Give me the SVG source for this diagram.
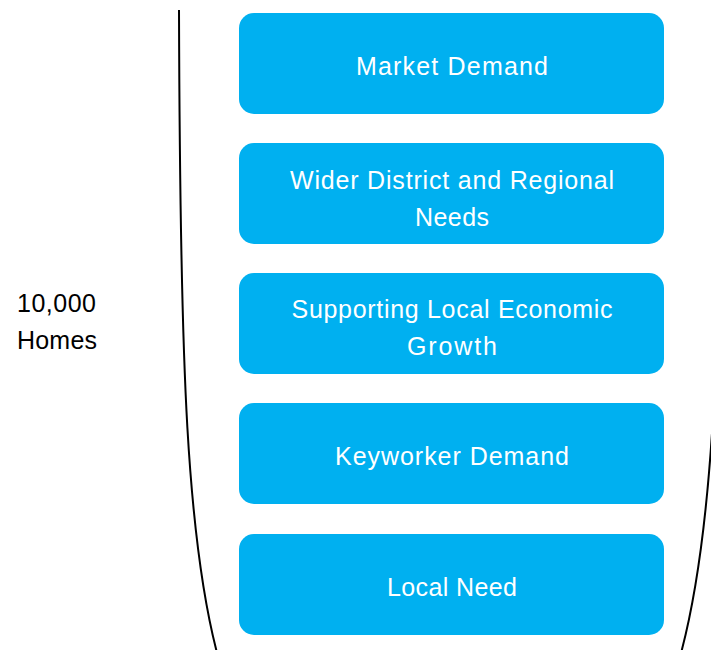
<svg xmlns="http://www.w3.org/2000/svg" width="711" height="650" viewBox="0 0 711 650">
<style>
.box{fill:#00B0F0;}
.t{fill:#ffffff;font-family:"Liberation Sans",Arial,sans-serif;font-size:25px;text-anchor:middle;}
.lbl{fill:#000000;font-family:"Liberation Sans",Arial,sans-serif;font-size:25px;}
.brk{fill:none;stroke:#000000;stroke-width:2;}
</style>
<rect width="711" height="650" fill="#ffffff"/>
<g id="connectors">
<path class="brk" d="M179,10 C180,350 185,560 225,680"/>
<path class="brk" d="M722,10 C721,360 713,560 673,680"/>
</g>
<g id="label-homes">
<text class="lbl" x="17" y="312" textLength="79" lengthAdjust="spacing">10,000</text>
<text class="lbl" x="17" y="349" textLength="80" lengthAdjust="spacing">Homes</text>
</g>
<g id="market-demand">
<rect class="box" x="239" y="13" width="425" height="101" rx="15"/>
<text class="t" x="452" y="75" textLength="192" lengthAdjust="spacing">Market Demand</text>
</g>
<g id="wider-district">
<rect class="box" x="239" y="143" width="425" height="101" rx="15"/>
<text class="t" x="452" y="189" textLength="324" lengthAdjust="spacing">Wider District and Regional</text>
<text class="t" x="452" y="226" textLength="74" lengthAdjust="spacing">Needs</text>
</g>
<g id="local-economic">
<rect class="box" x="239" y="273" width="425" height="101" rx="15"/>
<text class="t" x="452" y="318" textLength="321" lengthAdjust="spacing">Supporting Local Economic</text>
<text class="t" x="452" y="355" textLength="90" lengthAdjust="spacing">Growth</text>
</g>
<g id="keyworker">
<rect class="box" x="239" y="403" width="425" height="101" rx="15"/>
<text class="t" x="452" y="465" textLength="234" lengthAdjust="spacing">Keyworker Demand</text>
</g>
<g id="local-need">
<rect class="box" x="239" y="534" width="425" height="101" rx="15"/>
<text class="t" x="452" y="596" textLength="130" lengthAdjust="spacing">Local Need</text>
</g>
</svg>
